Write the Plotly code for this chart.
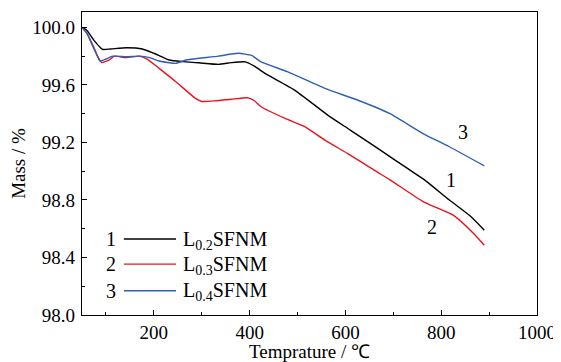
import plotly.graph_objects as go

# ---- data ----
t1 = [50, 60, 75, 93, 110, 143, 176, 200, 232, 260, 294, 335, 362, 391, 410, 432, 494, 563, 610, 673, 735, 765, 817, 860, 890]
m1 = [100.0, 99.98, 99.91, 99.847, 99.85, 99.858, 99.85, 99.82, 99.773, 99.762, 99.754, 99.743, 99.755, 99.76, 99.73, 99.68, 99.564, 99.39, 99.286, 99.146, 99.007, 98.94, 98.80, 98.69, 98.59]

t2 = [50, 60, 75, 91, 105, 118, 142, 170, 186, 211, 246, 287, 300, 330, 362, 397, 410, 424, 474, 515, 557, 604, 660, 693, 763, 825, 867, 890]
m2 = [100.0, 99.96, 99.85, 99.757, 99.77, 99.80, 99.79, 99.80, 99.78, 99.715, 99.622, 99.506, 99.485, 99.49, 99.50, 99.51, 99.49, 99.448, 99.367, 99.31, 99.216, 99.124, 99.007, 98.94, 98.787, 98.694, 98.569, 98.485]

t3 = [50, 60, 75, 87, 100, 114, 143, 170, 191, 211, 232, 246, 267, 294, 335, 362, 377, 404, 424, 480, 557, 625, 693, 763, 817, 890]
m3 = [100.0, 99.96, 99.86, 99.768, 99.78, 99.80, 99.796, 99.80, 99.79, 99.766, 99.754, 99.75, 99.773, 99.785, 99.80, 99.815, 99.82, 99.805, 99.76, 99.69, 99.576, 99.495, 99.40, 99.26, 99.17, 99.037]

series_names = ["L<sub>0.2</sub>SFNM", "L<sub>0.3</sub>SFNM", "L<sub>0.4</sub>SFNM"]
series_nums = ["1", "2", "3"]
colors = ["#000000", "#e8141c", "#2f5fb3"]

x_ticks = [200, 400, 600, 800, 1000]
y_ticks = [98.0, 98.4, 98.8, 99.2, 99.6, 100.0]

# curve labels (data positions)
label_x = [821, 780, 846]
label_y = [98.94, 98.61, 99.27]

FONT = "Liberation Serif"

fig = go.Figure()
for t, m, c, n in zip([t1, t2, t3], [m1, m2, m3], colors, series_names):
    fig.add_trace(go.Scatter(x=t, y=m, mode="lines", name=n,
                             line=dict(color=c, width=1.4, shape="spline", smoothing=0.5),
                             showlegend=False))

# curve number labels
for lx, ly, s in zip(label_x, label_y, series_nums):
    fig.add_annotation(x=lx, y=ly, text=s, showarrow=False,
                       xanchor="center", yanchor="middle",
                       font=dict(family=FONT, size=20, color="black"))

# manual legend (lower-left)
leg_y = [0.251, 0.168, 0.080]
for yy, c, n, s in zip(leg_y, colors, series_names, series_nums):
    fig.add_annotation(xref="paper", yref="paper", x=0.063, y=yy, text=s,
                       xanchor="center", yanchor="middle",
                       showarrow=False, font=dict(family=FONT, size=20, color="black"))
    fig.add_shape(type="line", xref="paper", yref="paper", x0=0.092, x1=0.2066,
                  y0=yy, y1=yy, line=dict(color=c, width=1.4))
    fig.add_annotation(xref="paper", yref="paper", x=0.218, y=yy - 0.004, text=n,
                       xanchor="left", yanchor="middle", showarrow=False,
                       font=dict(family=FONT, size=20, color="black"))

axis_common = dict(showline=True, linecolor="black", linewidth=1.3, mirror=True,
                   ticks="inside", ticklen=5, tickwidth=1.2, tickcolor="black",
                   showgrid=False, zeroline=False, automargin=False,
                   tickfont=dict(family=FONT, size=19, color="black"))

fig.update_xaxes(range=[50, 1000], tickvals=x_ticks, ticklabelstandoff=0,
                 minor=dict(ticks="inside", ticklen=3, tickwidth=1.2, tickcolor="black", dtick=100, tick0=0),
                 title=dict(text="Temprature / ℃", font=dict(family=FONT, size=19, color="black"), standoff=2),
                 **axis_common)
fig.update_yaxes(range=[98.0, 100.107], tickvals=y_ticks, tickformat=".1f", ticklabelstandoff=2,
                 minor=dict(ticks="inside", ticklen=3, tickwidth=1.2, tickcolor="black", dtick=0.2, tick0=98.0),
                 title=dict(text="Mass / %", font=dict(family=FONT, size=19, color="black"), standoff=1),
                 **axis_common)

# page body has an 8px margin: figure is sized/margined to compensate
fig.update_layout(width=553, height=354, margin=dict(l=74, r=24, t=4, b=47),
                  paper_bgcolor="white", plot_bgcolor="white", showlegend=False)

fig.write_html("out.html")
